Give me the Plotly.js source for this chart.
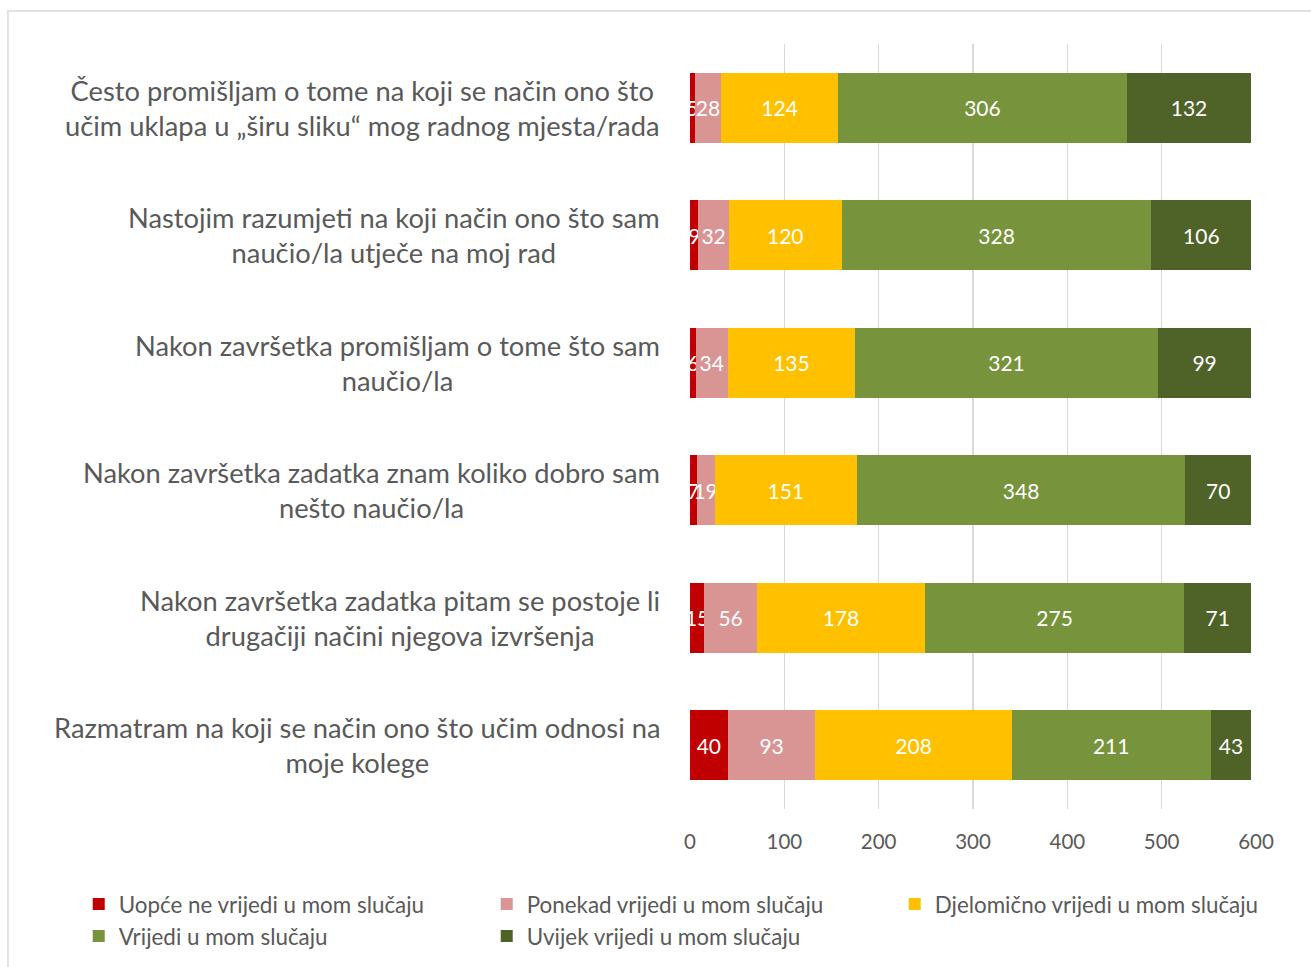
<!DOCTYPE html>
<html>
<head>
<meta charset="utf-8">
<script src="https://cdn.plot.ly/plotly-3.0.1.min.js"></script>
<style>html,body{margin:0;padding:0;background:#fff;}#chart{width:1311px;height:967px;}</style>
</head>
<body>
<div id="chart"></div>
<script>
const categories = [
  "Često promišljam o tome na koji se način ono što<br>učim uklapa u „širu sliku“ mog radnog mjesta/rada",
  "Nastojim razumjeti na koji način ono što sam<br>naučio/la utječe na moj rad",
  "Nakon završetka promišljam o tome što sam<br>naučio/la",
  "Nakon završetka zadatka znam koliko dobro sam<br>nešto naučio/la",
  "Nakon završetka zadatka pitam se postoje li<br>drugačiji načini njegova izvršenja",
  "Razmatram na koji se način ono što učim odnosi na<br>moje kolege"
];
const seriesNames = [
  "Uopće ne vrijedi u mom slučaju",
  "Ponekad vrijedi u mom slučaju",
  "Djelomično vrijedi u mom slučaju",
  "Vrijedi u mom slučaju",
  "Uvijek vrijedi u mom slučaju"
];
const uopce     = [5, 9, 6, 7, 15, 40];
const ponekad   = [28, 32, 34, 19, 56, 93];
const djelomicno= [124, 120, 135, 151, 178, 208];
const vrijedi   = [306, 328, 321, 348, 275, 211];
const uvijek    = [132, 106, 99, 70, 71, 43];
const xTicks = [0, 100, 200, 300, 400, 500, 600];

const colors = ["#c00000", "#d99594", "#ffc000", "#77933c", "#4f6228"];
const seriesValues = [uopce, ponekad, djelomicno, vrijedi, uvijek];
const catIds = categories.map((c, i) => "c" + i);
const FONT = "Lato, 'Open Sans', sans-serif";

const traces = seriesValues.map((vals, i) => ({
  type: "bar",
  orientation: "h",
  name: seriesNames[i],
  x: vals,
  y: catIds,
  marker: {color: colors[i], line: {width: 0}},
  text: vals.map(String),
  texttemplate: "%{text}",
  textposition: "inside",
  insidetextanchor: "middle",
  textangle: 0,
  constraintext: "none",
  insidetextfont: {color: "#ffffff", size: 21, family: FONT},
  hoverinfo: "x+name"
}));

const annotations = categories.map((c, i) => ({
  xref: "paper", yref: "y",
  x: -0.049, y: catIds[i],
  xanchor: "right", yanchor: "middle",
  align: "center",
  text: c,
  showarrow: false,
  font: {size: 27.3, color: "#595959", family: FONT}
}));

const layout = {
  width: 1311, height: 967,
  margin: {l: 690, r: 55, t: 44, b: 158, autoexpand: false},
  paper_bgcolor: "#ffffff",
  plot_bgcolor: "#ffffff",
  barmode: "stack",
  bargap: 0.45,
  showlegend: true,
  font: {family: FONT, color: "#595959"},
  xaxis: {
    range: [0, 600],
    tickvals: xTicks,
    ticktext: xTicks.map(String),
    showgrid: true,
    gridcolor: "#d9d9d9",
    gridwidth: 1.5,
    zeroline: false,
    showline: false,
    ticks: "",
    ticklabelstandoff: 18,
    tickfont: {size: 20.5, color: "#595959"},
    fixedrange: true
  },
  yaxis: {
    type: "category",
    categoryorder: "array",
    categoryarray: catIds,
    autorange: "reversed",
    showticklabels: false,
    showgrid: false,
    zeroline: false,
    showline: false,
    ticks: "",
    fixedrange: true
  },
  legend: {
    orientation: "h",
    x: -1.08, xanchor: "left",
    y: -0.0966, yanchor: "top",
    entrywidth: 363,
    entrywidthmode: "pixels",
    itemwidth: 30,
    traceorder: "normal",
    font: {size: 22.4, color: "#595959", family: FONT},
    bgcolor: "rgba(0,0,0,0)"
  },
  annotations: annotations,
  shapes: [{
    type: "rect", xref: "paper", yref: "paper",
    x0: -1.205, x1: 1.3, y0: -0.4, y1: 1.043,
    line: {color: "#d9d9d9", width: 1.5},
    fillcolor: "rgba(0,0,0,0)",
    layer: "below"
  }]
};

Plotly.newPlot("chart", traces, layout, {displayModeBar: false, staticPlot: true});
</script>
</body>
</html>
